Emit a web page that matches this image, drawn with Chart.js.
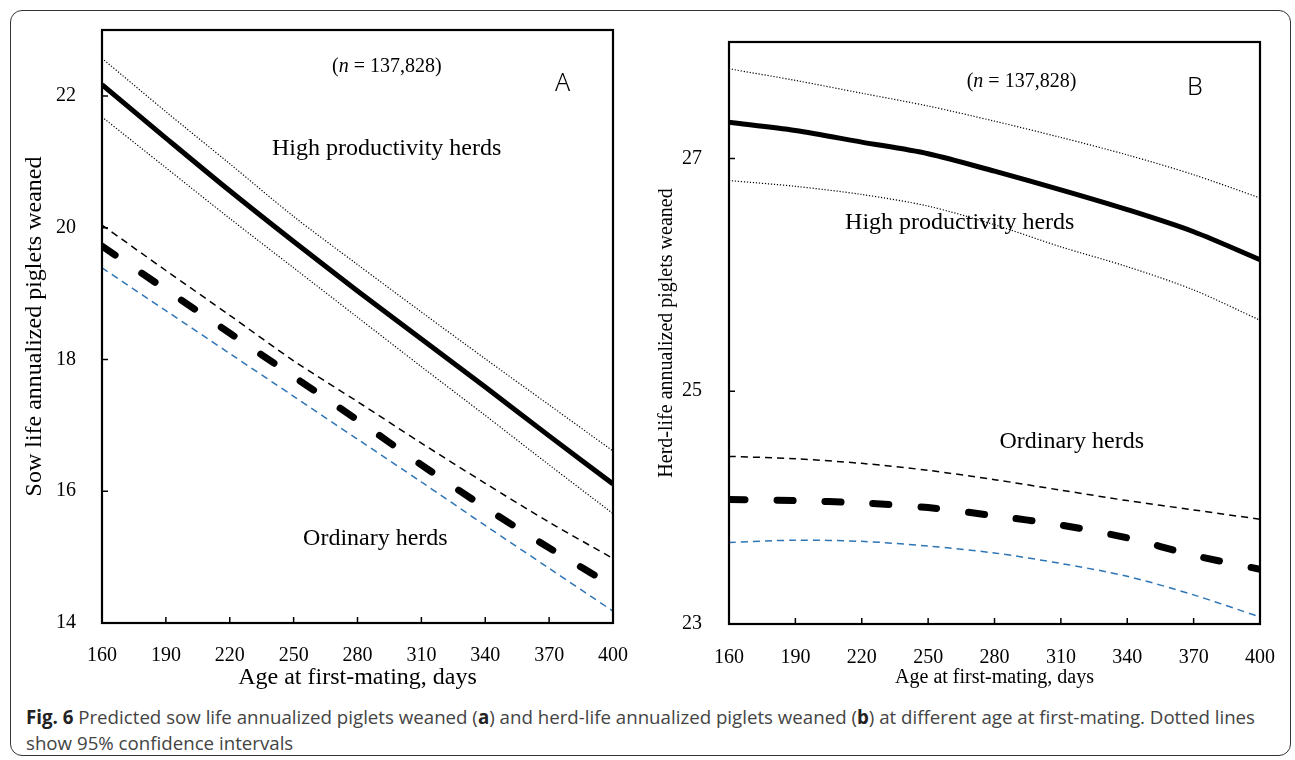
<!DOCTYPE html>
<html>
<head>
<meta charset="utf-8">
<script src="https://cdn.jsdelivr.net/npm/chart.js@4.4.1/dist/chart.umd.min.js"></script>
<style>
  html, body { margin: 0; padding: 0; background: #fff; }
  body { width: 1295px; height: 760px; position: relative; overflow: hidden; }
  #frame {
    position: absolute; left: 10px; top: 10px; width: 1281px; height: 746px;
    border: 1.5px solid #333; border-radius: 12px; box-sizing: border-box;
  }
  #chartA { position: absolute; left: 0; top: 0; }
  #chartB { position: absolute; left: 650px; top: 0; }
  #cap {
    position: absolute; left: 26px; top: 704px; white-space: nowrap;
    font-family: "Open Sans", sans-serif; font-size: 18.7px; line-height: 26px; color: #444;
  }
  #cap b { color: #222; }
</style>
</head>
<body>
<div id="frame"></div>
<canvas id="chartA" width="650" height="700"></canvas>
<canvas id="chartB" width="645" height="700"></canvas>
<div id="cap"><b>Fig. 6</b> Predicted sow life annualized piglets weaned (<b>a</b>) and herd-life annualized piglets weaned (<b>b</b>) at different age at first-mating. Dotted lines<br>show 95% confidence intervals</div>
<script>
// Age at first mating (x values and x tick labels)
const ages = [160, 190, 220, 250, 280, 310, 340, 370, 400];
const yTicksA = [14, 16, 18, 20, 22];
const yTicksB = [23, 25, 27];

// Panel A: sow life annualized piglets weaned
const sowHigh      = [22.17, 21.36, 20.56, 19.79, 19.04, 18.31, 17.58, 16.84, 16.11];
const sowHighUpper = [22.57, 21.76, 20.97, 20.17, 19.44, 18.72, 18.01, 17.31, 16.61];
const sowHighLower = [21.68, 20.91, 20.14, 19.39, 18.64, 17.89, 17.15, 16.40, 15.66];
const sowOrd       = [19.72, 19.06, 18.40, 17.74, 17.08, 16.40, 15.75, 15.14, 14.56];
const sowOrdUpper  = [20.04, 19.35, 18.67, 17.98, 17.36, 16.73, 16.12, 15.53, 14.98];
const sowOrdLower  = [19.39, 18.74, 18.09, 17.44, 16.79, 16.14, 15.48, 14.83, 14.18];

// Panel B: herd-life annualized piglets weaned
const herdHigh      = [27.31, 27.24, 27.14, 27.04, 26.89, 26.73, 26.56, 26.37, 26.13];
const herdHighUpper = [27.77, 27.67, 27.56, 27.45, 27.32, 27.18, 27.03, 26.86, 26.66];
const herdHighLower = [26.81, 26.76, 26.69, 26.59, 26.43, 26.24, 26.07, 25.87, 25.61];
const herdOrd       = [24.07, 24.06, 24.04, 24.00, 23.93, 23.85, 23.74, 23.59, 23.47];
const herdOrdUpper  = [24.44, 24.42, 24.38, 24.32, 24.24, 24.15, 24.06, 23.98, 23.90];
const herdOrdLower  = [23.70, 23.72, 23.71, 23.67, 23.61, 23.52, 23.41, 23.25, 23.06];

const SERIF = "'Times New Roman', 'Liberation Serif', serif";
const SANS = "'Noto Sans', 'Open Sans', sans-serif";
const BLUE = '#2e75b6';

// text notes placed in data coordinates
const notesA = [
  { x: 293.8, y: 22.44, size: 20, parts: [['(', ''], ['n', 'italic '], [' = 137,828)', '']] },
  { x: 376.3, y: 22.18, size: 25, sans: true, parts: [['A', '300 ']] },
  { x: 293.7, y: 21.20, size: 24, parts: [['High productivity herds', '']] },
  { x: 288.4, y: 15.28, size: 24, parts: [['Ordinary herds', '']] }
];
const notesB = [
  { x: 292.2, y: 27.655, size: 20, parts: [['(', ''], ['n', 'italic '], [' = 137,828)', '']] },
  { x: 370.6, y: 27.61, size: 25, sans: true, parts: [['B', '300 ']] },
  { x: 264.3, y: 26.445, size: 24, parts: [['High productivity herds', '']] },
  { x: 314.9, y: 24.57, size: 24, parts: [['Ordinary herds', '']] }
];

const toPts = vals => vals.map((v, i) => ({ x: ages[i], y: v }));

function series(vals, kind) {
  const base = { data: toPts(vals), pointRadius: 0, tension: 0.3, fill: false, borderColor: '#000' };
  if (kind === 'solid') return { ...base, borderWidth: 5 };
  if (kind === 'dot') return { ...base, borderWidth: 1.2, borderDash: [1.2, 1.8] };
  if (kind === 'thick') return { ...base, borderWidth: 7, borderDash: [16, 32], borderCapStyle: 'round' };
  if (kind === 'dash') return { ...base, borderWidth: 1.5, borderDash: [7, 5] };
  if (kind === 'blue') return { ...base, borderWidth: 1.5, borderDash: [7, 5], borderColor: BLUE };
}

// box around the plot, inward tick marks, and text notes
const framePlugin = {
  id: 'framePlugin',
  afterDraw(chart, args, opts) {
    const { ctx, chartArea: a, scales: { x, y } } = chart;
    ctx.save();
    ctx.strokeStyle = '#000';
    ctx.lineWidth = 1.5;
    ctx.beginPath();
    x.ticks.forEach(t => {
      const px = x.getPixelForValue(t.value);
      ctx.moveTo(px, a.bottom); ctx.lineTo(px, a.bottom - 6);
    });
    y.ticks.forEach(t => {
      const py = y.getPixelForValue(t.value);
      ctx.moveTo(a.left, py); ctx.lineTo(a.left + 6, py);
    });
    ctx.stroke();
    ctx.lineWidth = 2.2;
    ctx.strokeRect(a.left, a.top, a.right - a.left, a.bottom - a.top);

    ctx.fillStyle = '#000';
    ctx.textBaseline = 'middle';
    ctx.textAlign = 'left';
    opts.notes.forEach(n => {
      const fam = n.sans ? SANS : SERIF;
      let w = 0;
      n.parts.forEach(p => { ctx.font = p[1] + n.size + 'px ' + fam; w += ctx.measureText(p[0]).width; });
      let px = x.getPixelForValue(n.x) - w / 2;
      const py = y.getPixelForValue(n.y);
      n.parts.forEach(p => {
        ctx.font = p[1] + n.size + 'px ' + fam;
        ctx.fillText(p[0], px, py);
        px += ctx.measureText(p[0]).width;
      });
    });
    ctx.restore();
  }
};

function makeChart(id, cfg) {
  return new Chart(document.getElementById(id), {
    type: 'line',
    data: { datasets: cfg.datasets },
    options: {
      responsive: false,
      animation: false,
      devicePixelRatio: 1,
      layout: { padding: cfg.padding },
      plugins: { legend: { display: false }, tooltip: { enabled: false }, framePlugin: { notes: cfg.notes } },
      scales: {
        x: {
          type: 'linear', min: 160, max: 400,
          afterBuildTicks: s => { s.ticks = ages.map(v => ({ value: v })); },
          afterFit: s => { s.height = cfg.xHeight; },
          grid: { display: false }, border: { display: false },
          ticks: { color: '#000', padding: cfg.xPad, maxRotation: 0, font: { family: SERIF, size: 20 } },
          title: { display: true, text: 'Age at first-mating, days', color: '#000',
                   font: { family: SERIF, size: cfg.xTitleSize }, padding: { top: 0, bottom: cfg.xTitlePad } }
        },
        y: {
          min: cfg.yMin, max: cfg.yMax,
          afterBuildTicks: s => { s.ticks = cfg.yTicks.map(v => ({ value: v })); },
          afterFit: s => { s.width = cfg.yWidth; },
          grid: { display: false }, border: { display: false },
          ticks: { color: '#000', padding: cfg.yPad, font: { family: SERIF, size: 20 } },
          title: { display: true, text: cfg.yTitle, color: '#000',
                   font: { family: SERIF, size: cfg.yTitleSize }, padding: { top: cfg.yTitlePad, bottom: 0 } }
        }
      }
    },
    plugins: [framePlugin]
  });
}

makeChart('chartA', {
  datasets: [
    series(sowHighUpper, 'dot'), series(sowHighLower, 'dot'),
    series(sowOrdUpper, 'dash'), series(sowOrdLower, 'blue'),
    series(sowHigh, 'solid'), series(sowOrd, 'thick')
  ],
  notes: notesA,
  padding: { left: 0, top: 27, right: 37, bottom: 0 },
  xHeight: 77, yWidth: 102, xPad: 13, yPad: 18,
  yMin: 14, yMax: 23, yTicks: yTicksA,
  yTitle: 'Sow life annualized piglets weaned', yTitleSize: 24, yTitlePad: 20.6,
  xTitleSize: 24, xTitlePad: 7.6
});

makeChart('chartB', {
  datasets: [
    series(herdHighUpper, 'dot'), series(herdHighLower, 'dot'),
    series(herdOrdUpper, 'dash'), series(herdOrdLower, 'blue'),
    series(herdHigh, 'solid'), series(herdOrd, 'thick')
  ],
  notes: notesB,
  padding: { left: 0, top: 42, right: 35, bottom: 0 },
  xHeight: 76, yWidth: 79, xPad: 13.7, yPad: 19,
  yMin: 23, yMax: 28, yTicks: yTicksB,
  yTitle: 'Herd-life annualized piglets weaned', yTitleSize: 20, yTitlePad: 5,
  xTitleSize: 20, xTitlePad: 10
});
</script>
</body>
</html>
